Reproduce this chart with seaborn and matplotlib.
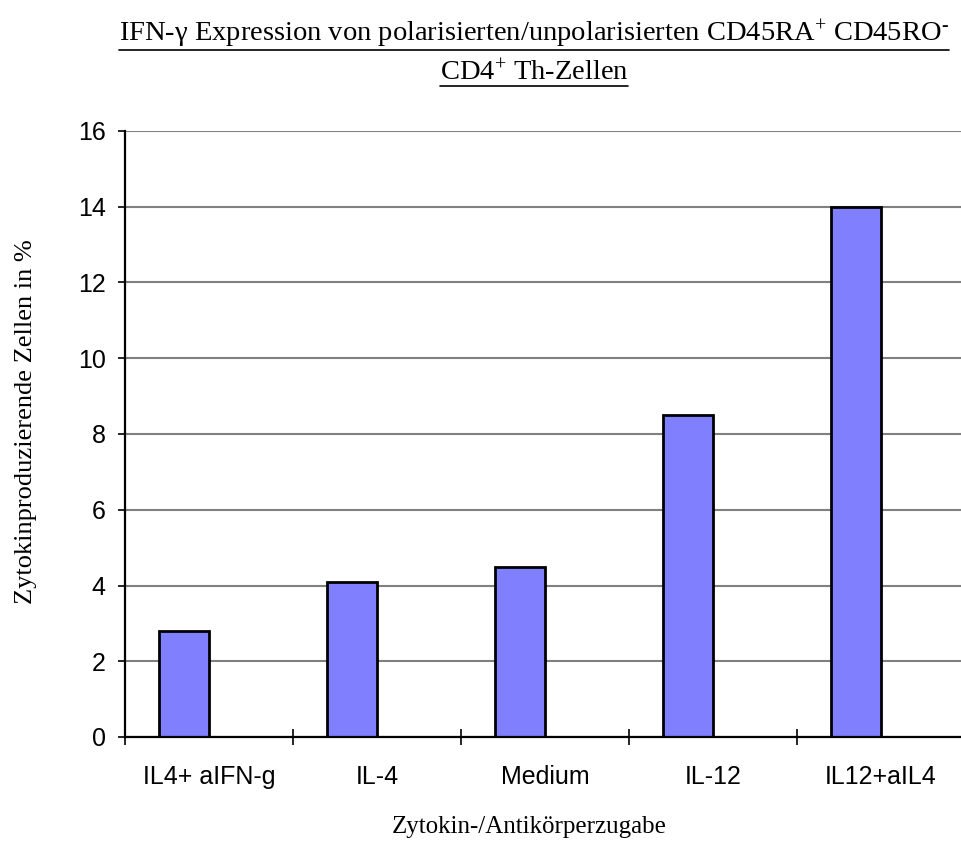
import matplotlib
matplotlib.use("Agg")
import matplotlib.pyplot as plt
import seaborn as sns
import pandas as pd
import numpy as np
from matplotlib.lines import Line2D

categories = ["IL4+ aIFN-g", "IL-4", "Medium", "IL-12", "IL12+aIL4"]
values = [2.8, 4.1, 4.5, 8.5, 14.0]
y_ticks = [0, 2, 4, 6, 8, 10, 12, 14, 16]
title_line1 = "IFN-\u03b3 Expression von polarisierten/unpolarisierten CD45RA$^{+}$ CD45RO$^{\u2010}$"
title_line2 = "CD4$^{+}$ Th-Zellen"
x_label = "Zytokin-/Antikörperzugabe"
y_label = "Zytokinproduzierende Zellen in %"

sns.set_theme(style="white")
plt.rcParams["font.family"] = ["Liberation Sans", "DejaVu Sans"]
plt.rcParams["mathtext.fontset"] = "custom"
plt.rcParams["mathtext.rm"] = "Liberation Serif"
plt.rcParams["mathtext.it"] = "Liberation Serif:italic"
plt.rcParams["mathtext.bf"] = "Liberation Serif:bold"

df = pd.DataFrame({
    "cat": categories + categories,
    "val": values + [np.nan] * len(values),
    "series": ["A"] * len(values) + ["B"] * len(values),
})

fig = plt.figure(figsize=(9.62, 8.56), dpi=100)
ax = fig.add_axes([125 / 962, (856 - 737) / 856, 840 / 962, 606 / 856])

sns.barplot(data=df, x="cat", y="val", hue="series", hue_order=["A", "B"],
            palette={"A": "#8080FF", "B": "#8080FF"}, width=0.6, dodge=True,
            errorbar=None, legend=False, ax=ax, order=categories,
            edgecolor="black", linewidth=2.0, saturation=1)

ax.set_xlim(-0.5, len(categories) - 0.5)
ax.set_ylim(0, 16)
ax.set_yticks(y_ticks)
ax.yaxis.grid(True, color="#808080", linewidth=1.5)
ax.xaxis.grid(False)
ax.set_axisbelow(True)

for s in ["top", "right"]:
    ax.spines[s].set_visible(False)
for s in ["left", "bottom"]:
    ax.spines[s].set_color("black")
    ax.spines[s].set_linewidth(1.6)

ax.tick_params(axis="y", which="major", left=True, length=5, width=1.2, color="black",
               labelsize=18, pad=9, labelcolor="black")
ax.tick_params(axis="x", which="major", bottom=True, length=0, labelsize=18, pad=20,
               labelcolor="black")
ax.set_xticks(np.arange(-0.5, len(categories), 1.0), minor=True)
ax.tick_params(axis="x", which="minor", bottom=True, direction="inout", length=12,
               width=1.2, color="black")

ax.set_xlabel(x_label, fontsize=18, family="Liberation Serif", color="black")
ax.set_ylabel(y_label, fontsize=19, family="Liberation Serif", color="black")
ax.xaxis.set_label_coords(0.481, -0.13)
ax.yaxis.set_label_coords(-0.105, 0.52)

t1 = fig.text(534 / 962, 1 - 34 / 856, title_line1, ha="center", va="center",
              fontsize=20.5, family="Liberation Serif", color="black")
t2 = fig.text(534 / 962, 1 - 73 / 856, title_line2, ha="center", va="center",
              fontsize=20.5, family="Liberation Serif", color="black")

fig.canvas.draw()
r = fig.canvas.get_renderer()
for t in (t1, t2):
    bb = t.get_window_extent(renderer=r)
    yy = bb.y0 + 1
    fig.add_artist(Line2D([bb.x0, bb.x1], [yy, yy], transform=None,
                          color="black", linewidth=1.2))

fig.savefig("out.png", dpi=100)
